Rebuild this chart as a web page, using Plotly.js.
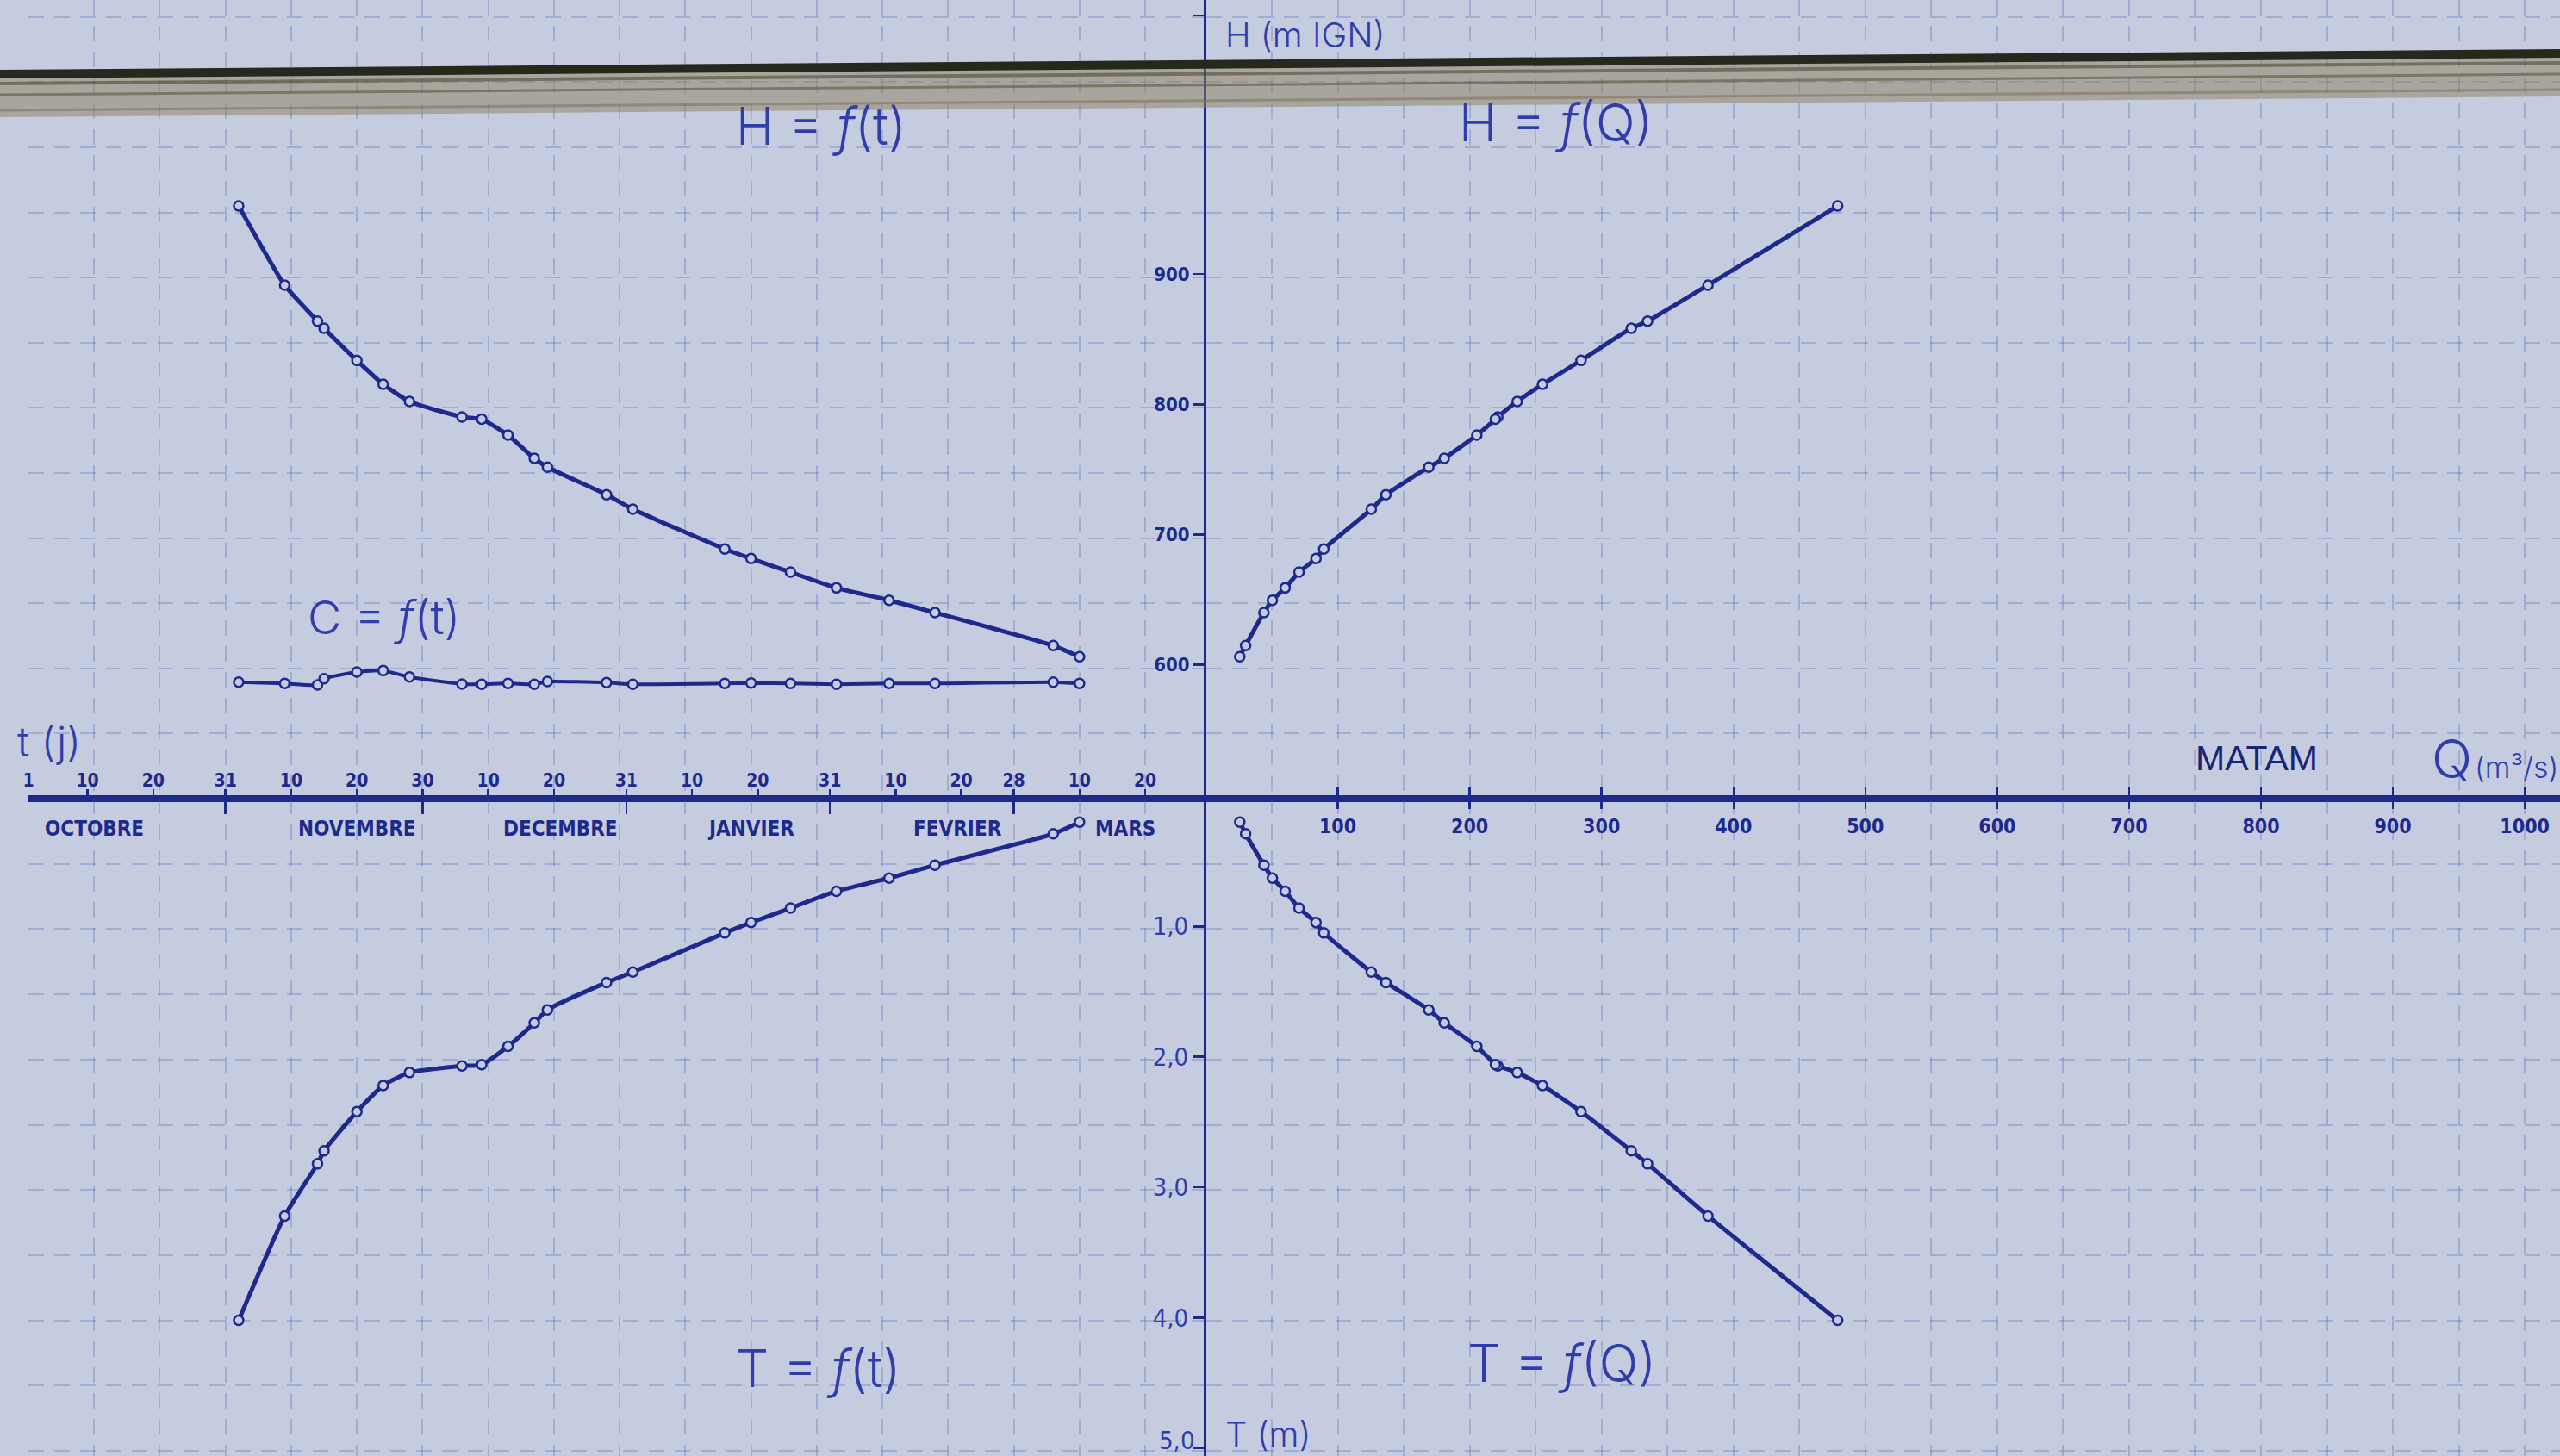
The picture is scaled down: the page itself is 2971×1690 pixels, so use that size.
<!DOCTYPE html>
<html>
<head>
<meta charset="utf-8">
<script src="https://cdn.plot.ly/plotly-3.0.1.min.js"></script>
<style>html,body{margin:0;padding:0;background:#c5cce0;}#chart{width:2971px;height:1690px;}</style>
</head>
<body>
<div id="chart"></div>
<script>
const obsDates = ['1970-11-02','1970-11-09','1970-11-14','1970-11-15','1970-11-20','1970-11-24','1970-11-28',
  '1970-12-06','1970-12-09','1970-12-13','1970-12-17','1970-12-19','1970-12-28','1971-01-01',
  '1971-01-15','1971-01-19','1971-01-25','1971-02-01','1971-02-09','1971-02-16','1971-03-06','1971-03-10'];
const stageH = [952.3, 891.5, 863.9, 858.4, 833.7, 815.4, 802.2, 790.3, 788.6, 776.4, 758.5,
  751.8, 730.6, 719.5, 688.9, 681.6, 671.2, 659.1, 649.6, 640.1, 614.8, 606.2];
const curveC = [586.8, 585.7, 584.6, 589.4, 594.5, 595.6, 590.7, 585.3, 585.1, 585.7, 585.1,
  587.2, 586.4, 585.1, 585.7, 586.1, 585.7, 585.1, 585.7, 585.7, 586.8, 585.7];
const depthT = [4.02, 3.22, 2.82, 2.72, 2.42, 2.22, 2.12, 2.07, 2.06, 1.92, 1.74,
  1.64, 1.43, 1.35, 1.05, 0.97, 0.86, 0.73, 0.63, 0.53, 0.29, 0.20];
const flowQ = [479, 380.7, 334.9, 322.5, 284.4, 255.2, 236.0, 221.3, 219.5, 205.4, 180.7,
  169.0, 136.5, 125.4, 89.4, 83.5, 70.6, 60.1, 50.4, 44.0, 30.1, 25.7];

// ---- axis ticks / labels ----
const dateTickVals = ['1970-10-01','1970-10-10','1970-10-20','1970-10-31','1970-11-10','1970-11-20','1970-11-30',
  '1970-12-10','1970-12-20','1970-12-31','1971-01-10','1971-01-20','1971-01-31','1971-02-10','1971-02-20',
  '1971-02-28','1971-03-10','1971-03-20'];
const dateTickText = ['1','10','20','31','10','20','30','10','20','31','10','20','31','10','20','28','10','20'];
const monthEnds = ['1970-10-01','1970-10-31','1970-11-30','1970-12-31','1971-01-31','1971-02-28'];
const monthNames = ['OCTOBRE','NOVEMBRE','DECEMBRE','JANVIER','FEVRIER','MARS'];
const monthLabelDates = ['1970-10-11','1970-11-20','1970-12-21','1971-01-19','1971-02-19 12:00','1971-03-17'];
const qTickVals = [100,200,300,400,500,600,700,800,900,1000];
const hTickVals = [600,700,800,900,1098.5];
const hTickText = ['600','700','800','900',''];
const tTickVals = [1,2,3,4,5];
const tTickText = ['1,0','2,0','3,0','4,0',''];
const tBottomLabel = '5,0';

// ---- ranges ----
const dateRange = ['1970-10-01','1971-03-29 07:12'];
const qRange = [0.33, 1026.7];
const hRange = [497.3, 1110.4];
const tRange = [5.06, 0.0205];

const W = 2971, HGT = 1690;
const px = x => x / W;
const py = y => 1 - y / HGT;
const XSPLIT = 1400 / W, YSPLIT = 1 - 927 / HGT;

const BG = '#c5cce0';
const NAVY = '#1d2a8c';
const INK = '#2f3ea8';
const GRID = 'rgba(70,95,175,0.28)';
const NARROW = 'Liberation Sans Narrow, DejaVu Sans Condensed, Liberation Sans, sans-serif';
const HAND = 'Inter, Lato, Noto Sans, sans-serif';

const lineStyle = {color: NAVY, width: 5, shape: 'spline', smoothing: 0.5};
const markerStyle = {symbol: 'circle', size: 11, color: BG, line: {color: NAVY, width: 2.5}};

const traces = [
  {name: 'H = f(t)', x: obsDates, y: stageH, xaxis: 'x', yaxis: 'y', mode: 'lines+markers', line: lineStyle, marker: markerStyle},
  {name: 'C = f(t)', x: obsDates, y: curveC, xaxis: 'x', yaxis: 'y', mode: 'lines+markers', line: Object.assign({}, lineStyle, {width: 4}), marker: markerStyle},
  {name: 'T = f(t)', x: obsDates, y: depthT, xaxis: 'x3', yaxis: 'y2', mode: 'lines+markers', line: lineStyle, marker: markerStyle},
  {name: 'H = f(Q)', x: flowQ, y: stageH, xaxis: 'x2', yaxis: 'y', mode: 'lines+markers', line: lineStyle, marker: markerStyle},
  {name: 'T = f(Q)', x: flowQ, y: depthT, xaxis: 'x4', yaxis: 'y2', mode: 'lines+markers', line: lineStyle, marker: markerStyle}
];

const tickFontBold = {family: NARROW, size: 22, color: NAVY, weight: 'bold'};
const minorGrid = {showgrid: true, gridcolor: GRID, gridwidth: 2, griddash: '18px,12px', ticklen: 1, tickcolor: 'rgba(0,0,0,0)'};
const dateMinor = Object.assign({dtick: 10 * 86400000, tick0: '1970-10-01', ticks: 'outside'}, minorGrid);
const qMinor = Object.assign({dtick: 50, tick0: 0, ticks: 'outside'}, minorGrid);

const layout = {
  width: W, height: HGT,
  margin: {l: 0, r: 0, t: 0, b: 0, pad: 0},
  paper_bgcolor: BG, plot_bgcolor: BG,
  showlegend: false,
  // time axis, upper side (day labels)
  xaxis: {
    type: 'date', domain: [33 / W, XSPLIT], range: dateRange, anchor: 'y', side: 'bottom',
    showline: true, linecolor: NAVY, linewidth: 4, zeroline: false, showgrid: false,
    tickmode: 'array', tickvals: dateTickVals, ticktext: dateTickText,
    ticks: 'inside', ticklen: 11, tickwidth: 2.5, tickcolor: NAVY,
    ticklabelposition: 'inside', ticklabeloverflow: 'allow', tickfont: Object.assign({}, tickFontBold, {size: 21}),
    minor: dateMinor
  },
  // time axis, lower side (month boundary ticks)
  xaxis3: {
    type: 'date', domain: [33 / W, XSPLIT], range: dateRange, anchor: 'y2', side: 'top',
    showline: true, linecolor: NAVY, linewidth: 4, zeroline: false, showgrid: false,
    tickmode: 'array', tickvals: monthEnds, ticks: 'inside', ticklen: 18, tickwidth: 2.5, tickcolor: NAVY,
    showticklabels: false,
    minor: dateMinor
  },
  // discharge axis, upper side
  xaxis2: {
    domain: [XSPLIT, 1], range: qRange, anchor: 'y', side: 'bottom',
    showline: true, linecolor: NAVY, linewidth: 4, zeroline: false, showgrid: false,
    tickmode: 'array', tickvals: qTickVals, ticks: 'inside', ticklen: 14, tickwidth: 2.5, tickcolor: NAVY,
    showticklabels: false,
    minor: qMinor
  },
  // discharge axis, lower side (labels)
  xaxis4: {
    domain: [XSPLIT, 1], range: qRange, anchor: 'y2', side: 'top',
    showline: true, linecolor: NAVY, linewidth: 4, zeroline: false, showgrid: false,
    tickmode: 'array', tickvals: qTickVals, ticks: 'inside', ticklen: 12, tickwidth: 2.5, tickcolor: NAVY,
    ticklabelposition: 'inside', ticklabeloverflow: 'allow', ticklabelstandoff: 14,
    tickfont: Object.assign({}, tickFontBold, {size: 23}),
    minor: qMinor
  },
  yaxis: {
    domain: [YSPLIT, 1], range: hRange, anchor: 'x2', side: 'left',
    showline: true, linecolor: NAVY, linewidth: 3, zeroline: false, showgrid: false,
    tickmode: 'array', tickvals: hTickVals, ticktext: hTickText,
    ticks: 'outside', ticklen: 12, tickwidth: 2.5, tickcolor: NAVY, tickfont: tickFontBold,
    minor: Object.assign({dtick: 50, tick0: 497.3, ticks: 'inside'}, minorGrid)
  },
  yaxis2: {
    domain: [0, YSPLIT], range: tRange, anchor: 'x2', side: 'left',
    showline: true, linecolor: NAVY, linewidth: 3, zeroline: false, showgrid: false,
    tickmode: 'array', tickvals: tTickVals, ticktext: tTickText,
    ticks: 'outside', ticklen: 12, tickwidth: 2.5, tickcolor: NAVY,
    tickfont: {family: NARROW, size: 29, color: INK},
    minor: Object.assign({dtick: 0.5, tick0: 0.0205, ticks: 'inside'}, minorGrid)
  },
  shapes: [
    {type: 'path', xref: 'paper', yref: 'paper', layer: 'above',
     path: `M 0 ${py(90)} L 1 ${py(66)} L 1 ${py(112)} L 0 ${py(136)} Z`,
     fillcolor: 'rgba(140,125,92,0.5)', line: {width: 0}},
    {type: 'line', xref: 'paper', yref: 'paper', layer: 'above', x0: 0, x1: 1, y0: py(86), y1: py(62),
     line: {color: '#25281c', width: 10}},
    {type: 'line', xref: 'paper', yref: 'paper', layer: 'above', x0: 0, x1: 1, y0: py(97), y1: py(73),
     line: {color: 'rgba(70,68,40,0.55)', width: 4}},
    {type: 'line', xref: 'paper', yref: 'paper', layer: 'above', x0: 0, x1: 1, y0: py(110), y1: py(86),
     line: {color: 'rgba(95,85,62,0.6)', width: 3}},
    {type: 'line', xref: 'paper', yref: 'paper', layer: 'above', x0: 0, x1: 1, y0: py(128), y1: py(104),
     line: {color: 'rgba(120,105,80,0.5)', width: 3}}
  ],
  annotations: []
};

const ann = layout.annotations;
function txt(text, x, y, size, opts) {
  ann.push(Object.assign({text: text, x: px(x), y: py(y), xref: 'paper', yref: 'paper', showarrow: false,
    xanchor: 'center', yanchor: 'middle', font: {family: HAND, size: size, color: INK, weight: 300}}, opts || {}));
}
txt('H = <i>f</i>(t)', 953, 146, 60);
txt('H = <i>f</i>(Q)', 1806, 142, 60);
txt('C = <i>f</i>(t)', 445, 716, 54);
txt('T = <i>f</i>(t)', 950, 1588, 60);
txt('T = <i>f</i>(Q)', 1812, 1582, 60);
txt('H (m IGN)', 1420, 40, 40, {xanchor: 'left'});
txt('T (m)', 1420, 1664, 40, {xanchor: 'left'});
txt('t (j)', 18, 860, 48, {xanchor: 'left'});
txt('Q', 2820, 880, 62, {xanchor: 'left'});
txt('(m³/s)', 2870, 890, 34, {xanchor: 'left'});
txt('MATAM', 2619, 880, 41, {font: {family: 'Liberation Sans, Arial, sans-serif', size: 41, color: '#1a2475'}});
txt(tBottomLabel, 1388, 1672, 29, {xanchor: 'right', font: {family: NARROW, size: 29, color: INK}});

monthNames.forEach((m, i) => {
  ann.push({text: m, x: monthLabelDates[i], xref: 'x', y: py(962), yref: 'paper', showarrow: false,
    xanchor: 'center', yanchor: 'middle', font: {family: NARROW, size: 24, color: NAVY, weight: 'bold'}});
});

Plotly.newPlot('chart', traces, layout, {displayModeBar: false, staticPlot: true});
</script>
</body>
</html>
